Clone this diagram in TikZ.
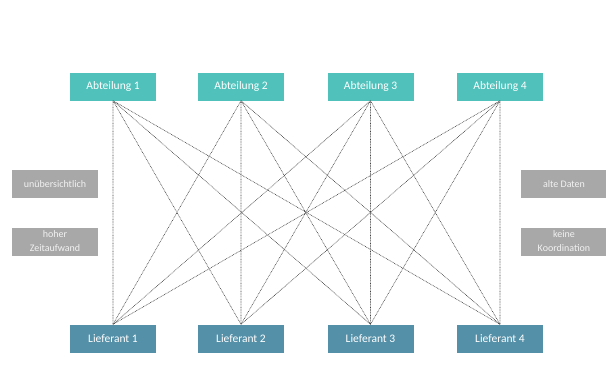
\documentclass[tikz,border=0pt]{standalone}
\usepackage{fontspec}
\setmainfont{Carlito}
\usepackage{tikz}
\definecolor{abtcol}{HTML}{50C2BB}
\definecolor{liefcol}{HTML}{5490A8}
\definecolor{notecol}{HTML}{A8A8A8}
\definecolor{linecol}{HTML}{444444}
\tikzset{
  box/.style={minimum width=86pt, minimum height=28pt, inner sep=1pt, text=white, font=\fontsize{11.5}{13}\selectfont, align=center},
  abt/.style={box, fill=abtcol},
  lief/.style={box, fill=liefcol},
  note/.style={box, fill=notecol, text=white!95!black, font=\fontsize{10}{14}\selectfont},
  dotline/.style={draw=linecol, line width=0.6pt, dash pattern=on 0.8pt off 0.8pt},
}
\begin{document}
\begin{tikzpicture}[x=1pt,y=-1pt]
  \useasboundingbox (0,0) rectangle (606,381);
  \node[abt] (a1) at (113,86.5) {Abteilung 1};
  \node[abt] (a2) at (241,86.5) {Abteilung 2};
  \node[abt] (a3) at (370.5,86.5) {Abteilung 3};
  \node[abt] (a4) at (500,86.5) {Abteilung 4};
  \node[lief] (l1) at (113,338.5) {Lieferant 1};
  \node[lief] (l2) at (241,338.5) {Lieferant 2};
  \node[lief] (l3) at (370.5,338.5) {Lieferant 3};
  \node[lief] (l4) at (500,338.5) {Lieferant 4};
  \node[note] (n1) at (55,184) {unübersichtlich};
  \node[note] (n2) at (55,241.5) {hoher\\Zeitaufwand};
  \node[note] (n3) at (564,184) {alte Daten};
  \node[note] (n4) at (564,241.5) {keine\\Koordination};
  % jede Abteilung mit jedem Lieferanten
  \draw[dotline] (a1.south) -- (l1.north) (a1.south) -- (l2.north) (a1.south) -- (l3.north) (a1.south) -- (l4.north);
  \draw[dotline] (a2.south) -- (l1.north) (a2.south) -- (l2.north) (a2.south) -- (l3.north) (a2.south) -- (l4.north);
  \draw[dotline] (a3.south) -- (l1.north) (a3.south) -- (l2.north) (a3.south) -- (l3.north) (a3.south) -- (l4.north);
  \draw[dotline] (a4.south) -- (l1.north) (a4.south) -- (l2.north) (a4.south) -- (l3.north) (a4.south) -- (l4.north);
\end{tikzpicture}
\end{document}
